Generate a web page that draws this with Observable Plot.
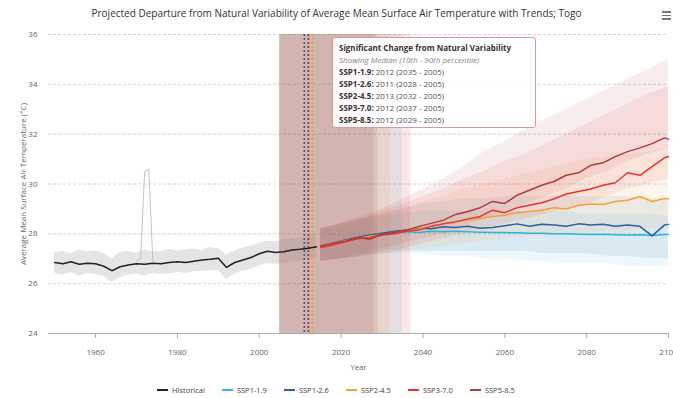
<!DOCTYPE html>
<html><head><meta charset="utf-8">
<script src="https://cdn.jsdelivr.net/npm/d3@7"></script>
<script src="https://cdn.jsdelivr.net/npm/@observablehq/plot@0.6"></script>
<style>
html,body{margin:0;padding:0;background:#fff;}
body{width:673px;height:398px;overflow:hidden;font-family:"Open Sans",sans-serif;position:relative;}
#title{position:absolute;left:0;top:6px;width:673px;text-align:center;font-size:10px;color:#333;}
#menu{position:absolute;left:662px;top:11px;width:9px;}
#menu div{height:1.5px;background:#777;margin-bottom:2px;}
#chart{position:absolute;left:0;top:26px;}
#tip{position:absolute;left:332px;top:37px;width:196px;height:85px;padding:4px 0 0 6px;border:1.2px solid #e29595;border-radius:3px;background:rgba(255,255,255,0.96);font-size:8px;line-height:12px;color:#555;}
#tip b{color:#333;}
#tip i{color:#888;}
#legend{position:absolute;left:-14px;top:385px;width:700px;display:flex;justify-content:center;gap:17px;font-size:7.5px;color:#444;}
#legend span.sw{display:inline-block;width:11px;height:2.5px;margin-right:4px;vertical-align:middle;position:relative;top:-1px;}
</style></head>
<body>
<div id="title"></div>
<div id="menu"><div></div><div></div><div></div></div>
<div id="chart"></div>
<div id="tip"></div>
<div id="legend"></div>
<script>
const titleText = "Projected Departure from Natural Variability of Average Mean Surface Air Temperature with Trends; Togo";
const scenarios = ["SSP1-1.9","SSP1-2.6","SSP2-4.5","SSP3-7.0","SSP5-8.5"];
const scenarioColors = ["#2bb5d8","#2f5f9e","#f7a030","#ee3030","#b23a3a"];
const histColor = "#222";
const sigYear = [2012, 2011, 2013, 2012, 2012];
const bandStart = [2005, 2005, 2005, 2005, 2005];
const bandEnd = [2035, 2028, 2032, 2037, 2029];

const histYears = [1950,1952,1954,1956,1958,1960,1962,1964,1966,1968,1970,1972,1974,1976,1978,1980,1982,1984,1986,1988,1990,1992,1994,1996,1998,2000,2002,2004,2006,2008,2010,2012,2014];
const histMedian = [26.85,26.80,26.88,26.78,26.82,26.80,26.70,26.52,26.68,26.75,26.80,26.78,26.82,26.80,26.85,26.88,26.85,26.90,26.95,26.98,27.02,26.65,26.85,26.95,27.05,27.20,27.30,27.25,27.28,27.35,27.38,27.42,27.48];
const histHi = [27.25,27.30,27.20,27.35,27.28,27.32,27.20,27.00,27.25,27.30,27.22,27.35,27.28,27.30,27.38,27.30,27.35,27.40,27.32,27.45,27.40,27.15,27.30,27.42,27.50,27.62,27.70,27.68,27.75,27.80,27.82,27.88,27.95];
const histLo = [26.40,26.35,26.45,26.30,26.42,26.38,26.30,26.05,26.25,26.35,26.40,26.30,26.42,26.38,26.40,26.45,26.40,26.48,26.50,26.52,26.55,26.15,26.40,26.50,26.58,26.72,26.80,26.78,26.80,26.88,26.90,26.95,27.00];
const outlierYears = [1970,1971,1972,1973,1974];
const outlierValues = [26.9,27.0,30.5,30.6,26.9];

const futYears = [2015,2018,2021,2024,2027,2030,2033,2036,2039,2042,2045,2048,2051,2054,2057,2060,2063,2066,2069,2072,2075,2078,2081,2084,2087,2090,2093,2096,2099,2100];
const ssp119 = [27.48,27.60,27.70,27.85,27.92,28.00,28.05,28.08,28.05,28.10,28.08,28.10,28.08,28.06,28.05,28.05,28.04,28.02,28.02,28.00,28.00,27.98,27.97,27.98,27.96,27.95,27.96,27.93,27.97,27.97];
const ssp126 = [27.50,27.62,27.75,27.85,27.95,28.02,28.10,28.15,28.22,28.20,28.28,28.25,28.30,28.22,28.25,28.32,28.40,28.30,28.38,28.35,28.30,28.40,28.35,28.38,28.30,28.35,28.30,27.92,28.35,28.38];
const ssp245 = [27.48,27.60,27.72,27.80,27.90,27.95,28.05,28.12,28.20,28.30,28.42,28.50,28.55,28.62,28.70,28.75,28.85,28.90,28.95,29.05,29.00,29.15,29.20,29.18,29.30,29.35,29.50,29.30,29.42,29.40];
const ssp370 = [27.45,27.55,27.68,27.80,27.85,27.95,28.00,28.10,28.15,28.30,28.40,28.48,28.60,28.70,28.95,28.85,29.05,29.15,29.25,29.40,29.60,29.70,29.80,29.95,30.05,30.45,30.35,30.70,31.05,31.10];
const ssp585 = [27.50,27.62,27.70,27.85,27.78,27.98,28.05,28.15,28.30,28.42,28.55,28.78,28.90,29.05,29.30,29.22,29.55,29.75,29.95,30.10,30.35,30.45,30.75,30.85,31.10,31.30,31.45,31.62,31.85,31.80];

const envYears = [2015,2020,2025,2030,2035,2040,2045,2050,2055,2060,2065,2070,2075,2080,2085,2090,2095,2100];
const lo119 = [26.9,27.0,27.1,27.2,27.2,27.2,27.1,27.1,27.0,27.0,26.9,26.9,26.8,26.8,26.8,26.7,26.7,26.7];
const hi119 = [28.1,28.3,28.5,28.7,28.8,28.9,28.9,28.9,28.9,28.9,28.9,28.9,28.9,28.8,28.8,28.8,28.8,28.7];
const lo126 = [26.9,27.0,27.1,27.2,27.3,27.3,27.3,27.3,27.3,27.3,27.3,27.2,27.2,27.2,27.1,27.1,27.0,27.0];
const hi126 = [28.2,28.4,28.6,28.8,29.0,29.2,29.3,29.4,29.4,29.5,29.5,29.5,29.5,29.5,29.5,29.5,29.4,29.4];
const lo245 = [26.9,27.0,27.1,27.2,27.3,27.4,27.5,27.6,27.7,27.8,27.9,27.9,28.0,28.0,28.1,28.1,28.2,28.2];
const hi245 = [28.2,28.4,28.6,28.8,29.0,29.3,29.5,29.8,30.0,30.2,30.4,30.6,30.8,31.0,31.1,31.2,31.3,31.4];
const lo370 = [26.9,27.0,27.1,27.3,27.4,27.6,27.8,28.0,28.2,28.4,28.6,28.8,29.0,29.2,29.5,29.8,30.0,30.2];
const hi370 = [28.2,28.4,28.6,28.9,29.2,29.5,29.8,30.2,30.5,30.9,31.2,31.6,32.0,32.4,32.8,33.2,33.6,33.9];
const lo585 = [26.9,27.0,27.2,27.4,27.6,27.8,28.0,28.3,28.6,28.9,29.2,29.5,29.8,30.2,30.5,30.9,31.2,31.4];
const hi585 = [28.2,28.4,28.7,29.0,29.4,29.8,30.2,30.7,31.3,31.7,32.2,32.6,33.0,33.4,33.8,34.2,34.6,35.0];

const yTicks = [24,26,28,30,32,34,36];
const xTicks = [1960,1980,2000,2020,2040,2060,2080,2100];

const medians = [ssp119, ssp126, ssp245, ssp370, ssp585];
const los = [lo119, lo126, lo245, lo370, lo585];
const his = [hi119, hi126, hi245, hi370, hi585];

const hist = histYears.map((y,i) => ({year:y, v:histMedian[i], lo:histLo[i], hi:histHi[i]}));
const outlier = outlierYears.map((y,i) => ({year:y, v:outlierValues[i]}));
const bands = scenarios.map((s,i) => ({s, x1:bandStart[i], x2:bandEnd[i], color:scenarioColors[i]}));
const sigs = scenarios.map((s,i) => ({s, x:sigYear[i], color:scenarioColors[i]}));
const sigOrder = [1,0,3,4,2];

const marks = [
  Plot.ruleY(yTicks.filter(t => t > 24), {y: d => d, stroke:"#d4d4d4", strokeDasharray:"3,2"}),
  ...bands.map(b => Plot.rect([b], {x1:"x1", x2:"x2", fill:b.color, fillOpacity:0.12})),
  ...scenarios.map((s,i) => Plot.areaY(envYears.map((y,j)=>({year:y, lo:los[i][j], hi:his[i][j]})),
      {x:"year", y1:"lo", y2:"hi", fill:scenarioColors[i], fillOpacity:0.09, curve:"linear"})),
  Plot.areaY(hist, {x:"year", y1:"lo", y2:"hi", fill:"#888", fillOpacity:0.22}),
  Plot.line(outlier, {x:"year", y:"v", stroke:"#bbb", strokeWidth:1, strokeDasharray:"1,1"}),
  ...sigOrder.map(i => Plot.ruleX([sigs[i]], {x:"x", stroke:sigs[i].color, strokeWidth:1.5, strokeDasharray:"2,2"})),
  Plot.line(hist, {x:"year", y:"v", stroke:histColor, strokeWidth:1.5}),
  ...scenarios.map((s,i) => Plot.line(futYears.map((y,j)=>({year:y, v:medians[i][j]})),
      {x:"year", y:"v", stroke:scenarioColors[i], strokeWidth:1.5})),
  Plot.ruleY([24], {stroke:"#aaa"}),
  Plot.axisX({ticks:xTicks, tickFormat:d=>String(d), tickSize:5, stroke:"#aaa", fill:"#666", fontSize:8, tickPadding:11,
    label:"Year", labelAnchor:"center", labelArrow:"none", labelOffset:36}),
  Plot.axisY({ticks:yTicks, tickSize:0, tickPadding:11, fill:"#666", fontSize:8,
    label:"Average Mean Surface Air Temperature (°C)", labelAnchor:"center", labelArrow:"none", labelOffset:28})
];

const chart = Plot.plot({
  width:673, height:350,
  marginLeft:48, marginRight:5, marginTop:8, marginBottom:43,
  x:{domain:[1948.5,2100]},
  y:{domain:[24,36]},
  style:{fontFamily:"Open Sans, sans-serif", background:"transparent", overflow:"visible"},
  marks
});
document.getElementById("chart").appendChild(chart);
document.getElementById("title").textContent = titleText;

const tip = document.getElementById("tip");
let html = "<b>Significant Change from Natural Variability</b><br><i>Showing Median (10th - 90th percentile)</i>";
scenarios.forEach((s,i) => { html += `<br><b>${s}:</b> ${sigYear[i]} (${bandEnd[i]} - ${bandStart[i]})`; });
tip.innerHTML = html;

const legend = document.getElementById("legend");
["Historical", ...scenarios].forEach((s,i) => {
  const c = i === 0 ? histColor : scenarioColors[i-1];
  const el = document.createElement("div");
  el.innerHTML = `<span class="sw" style="background:${c}"></span>${s}`;
  legend.appendChild(el);
});
</script>
</body></html>
